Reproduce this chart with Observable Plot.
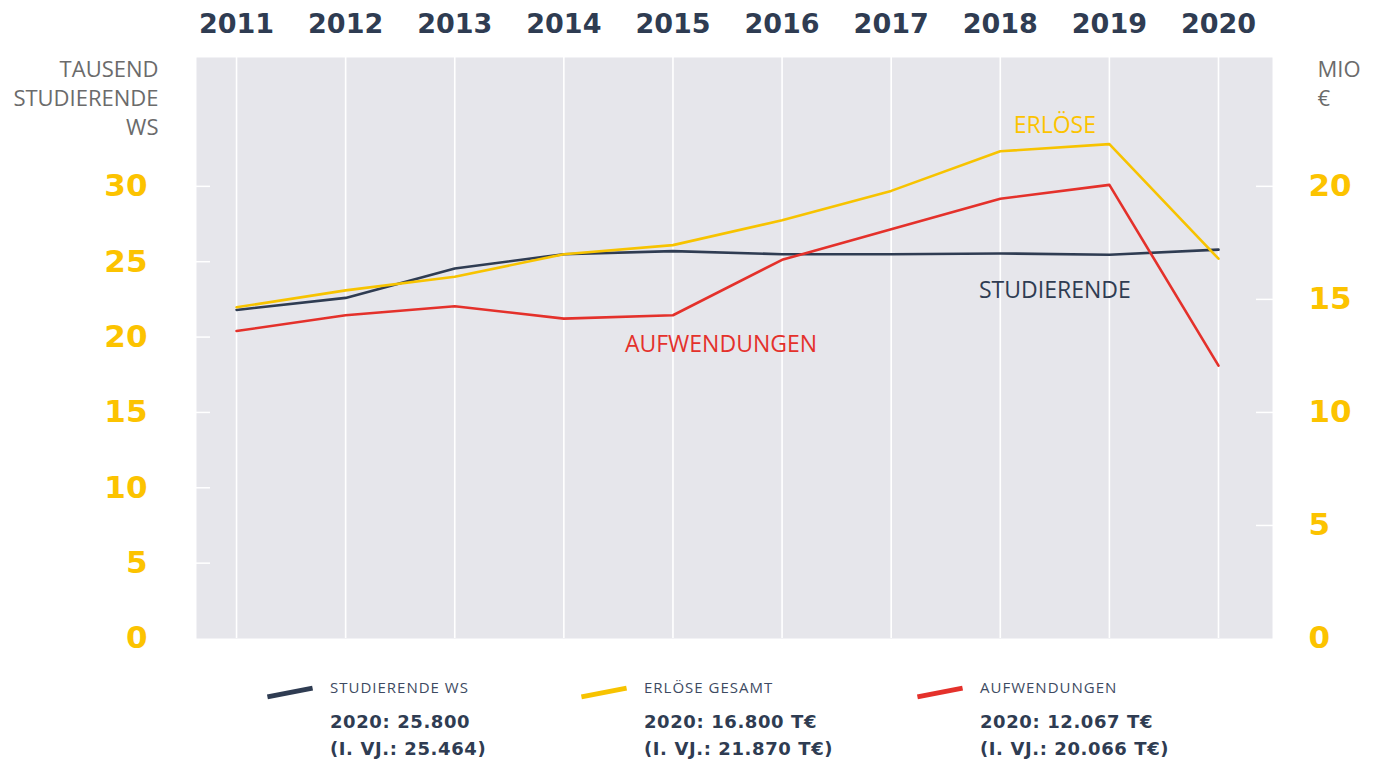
<!DOCTYPE html>
<html>
<head>
<meta charset="utf-8">
<script src="https://cdn.jsdelivr.net/npm/d3@7"></script>
<script src="https://cdn.jsdelivr.net/npm/@observablehq/plot@0.6"></script>
<style>
  html, body { margin: 0; padding: 0; background: #fff; }
  #wrap { position: relative; width: 1378px; height: 760px; }
  #chart svg { display: block; }
  .sw { position: absolute; width: 46px; height: 5px; transform: rotate(-11deg); transform-origin: center; }
  .lab { position: absolute; font-family: "Open Sans", sans-serif; font-size: 15px; letter-spacing: 1px; color: #3d4a62; white-space: nowrap; }
  .val { position: absolute; font-family: "DejaVu Sans", sans-serif; font-weight: bold; font-size: 18px; letter-spacing: 0.6px; color: #2f3c52; line-height: 27px; white-space: nowrap; }
</style>
</head>
<body>
<div id="wrap">
  <div id="chart"></div>
  <div id="legend"></div>
</div>
<script>
const years = [2011, 2012, 2013, 2014, 2015, 2016, 2017, 2018, 2019, 2020];
const studierende = [21.8, 22.6, 24.55, 25.5, 25.7, 25.5, 25.5, 25.55, 25.464, 25.8]; // Tausend
const erloese = [14.65, 15.4, 16.0, 17.0, 17.4, 18.5, 19.8, 21.55, 21.87, 16.8];       // Mio €
const aufwendungen = [13.6, 14.3, 14.7, 14.15, 14.3, 16.75, 18.1, 19.45, 20.066, 12.067]; // Mio €
const leftTicks = [0, 5, 10, 15, 20, 25, 30];
const rightTicks = [0, 5, 10, 15, 20];
const ratio = 1.5; // right axis unit -> left axis unit

const legendItems = [
  {label: "STUDIERENDE WS", line1: "2020: 25.800", line2: "(I. VJ.: 25.464)", color: "#2f3c52"},
  {label: "ERLÖSE GESAMT", line1: "2020: 16.800 T€", line2: "(I. VJ.: 21.870 T€)", color: "#f7c300"},
  {label: "AUFWENDUNGEN", line1: "2020: 12.067 T€", line2: "(I. VJ.: 20.066 T€)", color: "#e4312b"}
];

const NAVY = "#2f3c52", YELLOW = "#f7c300", YLAB = "#fcc300", RED = "#e4312b", GRAYTXT = "#6b6b6b";
const BOLD = "DejaVu Sans, sans-serif";
const LIGHT = "Open Sans, sans-serif";

const rows = [];
years.forEach((y, i) => {
  rows.push({year: y, series: "Studierende", v: studierende[i]});
  rows.push({year: y, series: "Erlöse", v: erloese[i] * ratio});
  rows.push({year: y, series: "Aufwendungen", v: aufwendungen[i] * ratio});
});

const labels = [
  {x: 2018.5, y: 34.0, text: "ERLÖSE", color: YLAB},
  {x: 2018.5, y: 23.1, text: "STUDIERENDE", color: NAVY},
  {x: 2015.44, y: 19.5, text: "AUFWENDUNGEN", color: RED}
];

const chart = Plot.plot({
  width: 1378,
  height: 660,
  marginLeft: 196,
  marginRight: 106,
  marginTop: 57,
  marginBottom: 22,
  x: {domain: [2010.633, 2020.495]},
  y: {domain: [0, 38.55]},
  marks: [
    Plot.frame({fill: "#e6e6eb", stroke: null}),
    Plot.ruleX(years, {x: d => d, stroke: "white", strokeWidth: 1.6}),
    Plot.axisY({anchor: "left", ticks: leftTicks.filter(d => d > 0), tickSize: -14, tickFormat: () => "", stroke: "white", strokeWidth: 1.5, strokeOpacity: 1}),
    Plot.axisY({anchor: "left", ticks: leftTicks, tickSize: 0, tickPadding: 49, tickFormat: d => String(d), fill: YLAB, fontSize: 31, fontWeight: "bold", fontFamily: BOLD}),
    Plot.axisY({anchor: "right", ticks: rightTicks.filter(d => d > 0).map(d => d * ratio), tickSize: -17, tickFormat: () => "", stroke: "white", strokeWidth: 1.5, strokeOpacity: 1}),
    Plot.axisY({anchor: "right", ticks: rightTicks.map(d => d * ratio), tickSize: 0, tickPadding: 36, tickFormat: d => String(Math.round(d / ratio)), fill: YLAB, fontSize: 31, fontWeight: "bold", fontFamily: BOLD}),
    Plot.axisX({anchor: "top", ticks: years, tickSize: 0, tickPadding: 25, tickFormat: d => String(d), fill: NAVY, fontSize: 27, fontWeight: "bold", fontFamily: BOLD}),
    Plot.text(["TAUSEND\nSTUDIERENDE\nWS"], {frameAnchor: "top-left", dx: -38, dy: -1, textAnchor: "end", lineAnchor: "top", lineHeight: 1.32, fontSize: 22, fontFamily: LIGHT, fill: GRAYTXT}),
    Plot.text(["MIO\n€"], {frameAnchor: "top-right", dx: 45, dy: -1, textAnchor: "start", lineAnchor: "top", lineHeight: 1.32, fontSize: 22, fontFamily: LIGHT, fill: GRAYTXT}),
    Plot.line(rows.filter(d => d.series === "Studierende"), {x: "year", y: "v", stroke: NAVY, strokeWidth: 2.6}),
    Plot.line(rows.filter(d => d.series === "Erlöse"), {x: "year", y: "v", stroke: YELLOW, strokeWidth: 2.6}),
    Plot.line(rows.filter(d => d.series === "Aufwendungen"), {x: "year", y: "v", stroke: RED, strokeWidth: 2.6}),
    Plot.text(labels, {x: "x", y: "y", text: "text", fill: "color", fontSize: 23, fontFamily: LIGHT, textAnchor: "middle"})
  ]
});
document.getElementById("chart").appendChild(chart);

const legend = document.getElementById("legend");
const colX = [330, 644, 980];
legendItems.forEach((it, i) => {
  const sw = document.createElement("div");
  sw.className = "sw";
  sw.style.background = it.color;
  sw.style.left = (colX[i] - 63) + "px";
  sw.style.top = "690px";
  legend.appendChild(sw);
  const lab = document.createElement("div");
  lab.className = "lab";
  lab.textContent = it.label;
  lab.style.left = colX[i] + "px";
  lab.style.top = "677px";
  legend.appendChild(lab);
  const val = document.createElement("div");
  val.className = "val";
  val.innerHTML = it.line1 + "<br>" + it.line2;
  val.style.left = colX[i] + "px";
  val.style.top = "708px";
  legend.appendChild(val);
});
</script>
</body>
</html>
